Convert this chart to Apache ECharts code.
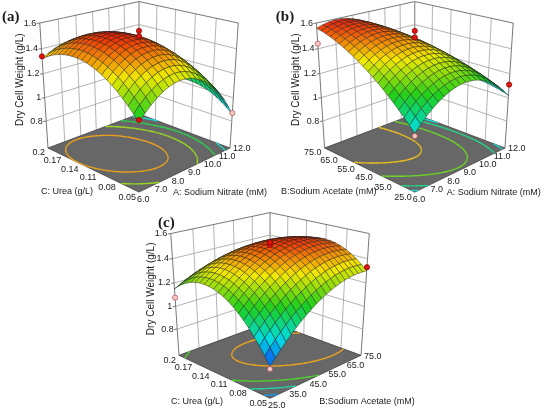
<!DOCTYPE html>
<html>
<head>
<meta charset="utf-8">
<title>Dry Cell Weight response surfaces</title>
<script src="https://cdn.jsdelivr.net/npm/echarts@6/dist/echarts.min.js"></script>
<style>
  html, body { margin: 0; padding: 0; background: #fff; }
  #main { width: 550px; height: 418px; }
</style>
</head>
<body>
<div id="main"></div>
<script>
  // vertical axis (Dry Cell Weight, g/L)
  const zTicks = [0.8, 1.0, 1.2, 1.4, 1.6];
  const zTickLabels = ['0.8', '1', '1.2', '1.4', '1.6'];
  const zFloor = 0.56;
  const zTop = 1.6;

  // factor levels and their tick labels
  const nitrate = [6, 7, 8, 9, 10, 11, 12];
  const nitrateLabels = ['6.0', '7.0', '8.0', '9.0', '10.0', '11.0', '12.0'];
  const acetate = [25, 35, 45, 55, 65, 75];
  const acetateLabels = ['25.0', '35.0', '45.0', '55.0', '65.0', '75.0'];
  const urea = [0.05, 0.08, 0.11, 0.14, 0.17, 0.2];
  const ureaLabels = ['0.05', '0.08', '0.11', '0.14', '0.17', '0.2'];

  // surface heights at the tick levels
  // (a) rows: sodium nitrate 6..12, columns: urea 0.05..0.2
  const surfaceA = [
    [1.100, 1.268, 1.374, 1.418, 1.400, 1.320],
    [1.232, 1.388, 1.481, 1.513, 1.482, 1.390],
    [1.296, 1.439, 1.520, 1.539, 1.496, 1.390],
    [1.290, 1.421, 1.489, 1.495, 1.440, 1.322],
    [1.216, 1.334, 1.390, 1.383, 1.320, 1.200],
    [1.080, 1.190, 1.240, 1.230, 1.160, 1.050],
    [0.860, 0.980, 1.030, 1.020, 0.940, 0.850]
  ];
  // (b) rows: sodium nitrate 6..12, columns: sodium acetate 25..75
  const surfaceB = [
    [1.020, 1.186, 1.322, 1.430, 1.510, 1.560],
    [1.153, 1.299, 1.416, 1.504, 1.563, 1.593],
    [1.233, 1.359, 1.456, 1.524, 1.563, 1.573],
    [1.260, 1.366, 1.442, 1.490, 1.510, 1.500],
    [1.233, 1.319, 1.376, 1.404, 1.403, 1.373],
    [1.153, 1.219, 1.256, 1.264, 1.243, 1.193],
    [1.020, 1.066, 1.082, 1.070, 1.030, 0.960]
  ];
  // (c) rows: sodium acetate 25..75, columns: urea 0.05..0.2
  const surfaceC = [
    [0.820, 1.056, 1.206, 1.272, 1.254, 1.150],
    [1.006, 1.220, 1.350, 1.396, 1.356, 1.232],
    [1.146, 1.340, 1.450, 1.474, 1.414, 1.268],
    [1.242, 1.416, 1.504, 1.508, 1.426, 1.260],
    [1.294, 1.446, 1.514, 1.496, 1.394, 1.208],
    [1.300, 1.432, 1.478, 1.440, 1.318, 1.110]
  ];

  // contour levels drawn on the floor
  const contoursA = [0.95, 1.1, 1.25, 1.42];
  const contoursB = [1.05, 1.13, 1.28, 1.45];
  const contoursC = [0.9, 1.05, 1.2, 1.42];

  // design points: [right axis value, left axis value, dry cell weight, above surface]
  const pointsA = [[9, 0.125, 1.50, 1], [9, 0.125, 1.54, 1], [6, 0.2, 1.34, 1], [12, 0.05, 0.87, 0], [6, 0.05, 1.12, 1]];
  const pointsB = [[9, 50, 1.49, 1], [9, 50, 1.54, 1], [6, 75, 1.44, 0], [12, 25, 1.11, 1], [6, 25, 1.00, 0]];
  const pointsC = [[50, 0.125, 1.51, 1], [50, 0.125, 1.53, 1], [25, 0.2, 1.075, 0], [75, 0.05, 1.33, 1], [25, 0.05, 0.80, 0]];

  // look of the plots
  const PALETTE = ['#0a30f0', '#00dce6', '#1ccf1c', '#f2e800', '#ec1c0c'];
  const PHI = 25 * Math.PI / 180;
  const DIST = 10.0;
  const FOCAL = 643.5;
  const HSCALE = 1.889;
  const XR = [-0.212, 0.212];
  const YR = [-0.1, 0.225];
  const FONT = '9px "Liberation Sans", Arial, sans-serif';
  const GRIDLINE = '#a0a0a0';
  const EDGE = '#555555';

  const panels = [
    {
      tag: '(a)', cx: 139, cy: 148, grid: surfaceA,
      right: nitrate, rightLabels: nitrateLabels, rightName: 'A: Sodium Nitrate (mM)',
      left: urea, leftLabels: ureaLabels, leftName: 'C: Urea (g/L)',
      contours: contoursA, points: pointsA, subR: 3, subL: 4, colorRange: [0.72, 1.55],
      tagPos: [-137, -131], leftNamePos: [-72, 44], rightNamePos: [81, 45]
    },
    {
      tag: '(b)', cx: 416, cy: 148, grid: surfaceB,
      right: nitrate, rightLabels: nitrateLabels, rightName: 'A: Sodium Nitrate (mM)',
      left: acetate, leftLabels: acetateLabels, leftName: 'B:Sodium Acetate (mM)',
      contours: contoursB, points: pointsB, subR: 3, subL: 4, colorRange: [0.84, 1.6],
      tagPos: [-139, -131], leftNamePos: [-86, 44], rightNamePos: [79, 45]
    },
    {
      tag: '(c)', cx: 270, cy: 359, grid: surfaceC,
      right: acetate, rightLabels: acetateLabels, rightName: 'B:Sodium Acetate (mM)',
      left: urea, leftLabels: ureaLabels, leftName: 'C: Urea (g/L)',
      contours: contoursC, points: pointsC, subR: 4, subL: 4, colorRange: [0.80, 1.54],
      tagPos: [-112, -132], leftNamePos: [-73, 46], rightNamePos: [97, 46]
    }
  ];

  // perspective view of the unit box: U along the right edge, V along the left edge
  function project(U, V, z) {
    const w = (z - zFloor) * HSCALE;
    const xc = (U - V) / Math.SQRT2;
    const dpt = (U + V) / Math.SQRT2;
    const yc = w * Math.cos(PHI) + dpt * Math.sin(PHI);
    const zc = DIST + dpt * Math.cos(PHI) - w * Math.sin(PHI);
    return [xc / zc, yc / zc];
  }

  // smooth surface between the read values (Catmull-Rom)
  function cubic(p0, p1, p2, p3, t) {
    return 0.5 * (2 * p1 + (p2 - p0) * t + (2 * p0 - 5 * p1 + 4 * p2 - p3) * t * t +
      (3 * p1 - p0 - 3 * p2 + p3) * t * t * t);
  }
  function at(arr, k) {
    const n = arr.length;
    if (k < 0) return 3 * arr[0] - 3 * arr[1] + arr[2];
    if (k >= n) return 3 * arr[n - 1] - 3 * arr[n - 2] + arr[n - 3];
    return arr[k];
  }
  function interp1(arr, g) {
    const k = Math.min(Math.floor(g), arr.length - 2);
    return cubic(at(arr, k - 1), at(arr, k), at(arr, k + 1), at(arr, k + 2), g - k);
  }
  function sample(grid, gi, gj) {
    return interp1(grid.map(row => interp1(row, gj)), gi);
  }
  function buildFine(grid, subR, subL) {
    const NI = (grid.length - 1) * subR, NJ = (grid[0].length - 1) * subL;
    const out = [];
    for (let I = 0; I <= NI; I++) {
      const row = [];
      for (let J = 0; J <= NJ; J++) row.push(sample(grid, I / subR, J / subL));
      out.push(row);
    }
    return out;
  }

  function contourSegments(field, level) {
    const segs = [];
    for (let I = 0; I < field.length - 1; I++) {
      for (let J = 0; J < field[0].length - 1; J++) {
        const c = [[I, J], [I + 1, J], [I + 1, J + 1], [I, J + 1]];
        const v = c.map(p => field[p[0]][p[1]]);
        const pts = [];
        for (let e = 0; e < 4; e++) {
          const a = v[e], b = v[(e + 1) % 4];
          if ((a < level) !== (b < level)) {
            const t = (level - a) / (b - a);
            const pa = c[e], pb = c[(e + 1) % 4];
            pts.push([pa[0] + (pb[0] - pa[0]) * t, pa[1] + (pb[1] - pa[1]) * t]);
          }
        }
        if (pts.length === 2) segs.push(pts);
        else if (pts.length === 4) { segs.push([pts[0], pts[1]]); segs.push([pts[2], pts[3]]); }
      }
    }
    return segs;
  }

  function colorOf(z, range) {
    const t = Math.max(0, Math.min(1, (z - range[0]) / (range[1] - range[0])));
    return echarts.color.lerp(t, PALETTE);
  }

  function text(x, y, s, opt) {
    opt = opt || {};
    return {
      type: 'text', x: x, y: y, rotation: opt.rot || 0,
      style: {
        text: s, x: 0, y: 0, fill: '#1a1a1a', font: opt.font || FONT,
        align: opt.align || 'center', verticalAlign: 'middle',
        textAlign: opt.align || 'center', textVerticalAlign: 'middle'
      }
    };
  }

  panels.forEach(p => {
    p.fine = buildFine(p.grid, p.subR, p.subL);
    const field = buildFine(p.grid, 8, 10);
    const FI = field.length - 1, FJ = field[0].length - 1;
    p.contourLines = p.contours.map(level => ({
      level: level,
      segs: contourSegments(field, level).map(s => s.map(q => [-1 + 2 * q[0] / FI, -1 + 2 * q[1] / FJ]))
    }));
  });

  function frameItem(p) {
    return function (params, api) {
      const P = (U, V, z) => api.coord(project(U, V, z));
      const kids = [];
      const nR = p.right.length, nL = p.left.length;
      const uOf = k => -1 + 2 * k / (nR - 1);
      const vOf = k => -1 + 2 * k / (nL - 1);
      const line = (a, b, stroke, w) => kids.push({
        type: 'line', shape: { x1: a[0], y1: a[1], x2: b[0], y2: b[1] },
        style: { stroke: stroke, lineWidth: w }
      });
      // back walls
      for (let k = 0; k < nR; k++) {
        line(P(uOf(k), 1, zFloor), P(uOf(k), 1, zTop), (k === 0 || k === nR - 1) ? EDGE : GRIDLINE, 0.8);
      }
      for (let k = 0; k < nL - 1; k++) {
        line(P(1, vOf(k), zFloor), P(1, vOf(k), zTop), k === 0 ? EDGE : GRIDLINE, 0.8);
      }
      zTicks.forEach(z => {
        const c = z === zTop ? EDGE : GRIDLINE;
        line(P(-1, 1, z), P(1, 1, z), c, 0.8);
        line(P(1, -1, z), P(1, 1, z), c, 0.8);
      });
      // floor
      kids.push({
        type: 'polygon',
        shape: { points: [P(-1, -1, zFloor), P(1, -1, zFloor), P(1, 1, zFloor), P(-1, 1, zFloor)] },
        style: { fill: '#676767', stroke: '#3c3c3c', lineWidth: 0.8 }
      });
      // contours on the floor
      p.contourLines.forEach(cl => {
        const col = echarts.color.lift(colorOf(cl.level, p.colorRange), 0.08);
        cl.segs.forEach(s => line(P(s[0][0], s[0][1], zFloor), P(s[1][0], s[1][1], zFloor), col, 1.4));
      });
      // vertical axis ticks and labels
      zTicks.forEach((z, k) => {
        const a = P(-1, 1, z);
        line(a, [a[0] - 3, a[1] + 0.4], EDGE, 0.8);
        kids.push(text(a[0] - 3.5, a[1], zTickLabels[k], { align: 'right' }));
      });
      const o = P(0, 0, zFloor);
      const zn = P(-1, 1, 1.15);
      kids.push(text(o[0] - 119, zn[1], 'Dry Cell Weight (g/L)', {
        rot: Math.PI / 2, font: '10px "Liberation Sans", Arial, sans-serif'
      }));
      // floor axis labels
      p.rightLabels.forEach((s, k) => {
        const t = k / (nR - 1);
        const a = P(uOf(k), -1, zFloor);
        kids.push(text(a[0] - 2 + 5 * t, a[1] + 7 - 6 * t, s, { align: 'left' }));
      });
      p.leftLabels.forEach((s, k) => {
        const a = P(-1, vOf(k), zFloor);
        kids.push(text(a[0] - 3, a[1] + 5, s, { align: 'right' }));
      });
      kids.push(text(o[0] + p.leftNamePos[0], o[1] + p.leftNamePos[1], p.leftName));
      kids.push(text(o[0] + p.rightNamePos[0], o[1] + p.rightNamePos[1], p.rightName));
      kids.push(text(o[0] + p.tagPos[0], o[1] + p.tagPos[1], p.tag, {
        align: 'left', font: 'bold 15px "Liberation Serif", "Times New Roman", serif'
      }));
      return { type: 'group', children: kids };
    };
  }

  function surfaceItem(p) {
    const NI = p.fine.length - 1, NJ = p.fine[0].length - 1;
    return function (params, api) {
      const i = api.value(0), j = api.value(1);
      const kids = [];
      for (let a = 0; a < p.subR; a++) {
        for (let b = 0; b < p.subL; b++) {
          const I = i * p.subR + a, J = j * p.subL + b;
          const corners = [[I, J], [I + 1, J], [I + 1, J + 1], [I, J + 1]];
          let zs = 0;
          const pts = corners.map(q => {
            const z = p.fine[q[0]][q[1]];
            zs += z;
            return api.coord(project(-1 + 2 * q[0] / NI, -1 + 2 * q[1] / NJ, z));
          });
          kids.push({
            type: 'polygon', z2: (NI + NJ) - (I + J),
            shape: { points: pts },
            style: { fill: colorOf(zs / 4, p.colorRange), stroke: 'rgba(25,25,25,0.85)', lineWidth: 0.5 }
          });
        }
      }
      return { type: 'group', children: kids };
    };
  }

  function pointItem(p) {
    const r0 = p.right[0], r1 = p.right[p.right.length - 1];
    const l0 = p.left[0], l1 = p.left[p.left.length - 1];
    return function (params, api) {
      const U = -1 + 2 * (api.value(0) - r0) / (r1 - r0);
      const V = -1 + 2 * (api.value(1) - l0) / (l1 - l0);
      const c = api.coord(project(U, V, api.value(2)));
      const above = api.value(3) === 1;
      return {
        type: 'circle', shape: { cx: c[0], cy: c[1], r: 2.6 },
        style: { fill: above ? '#e3140e' : '#f6c8c8', stroke: above ? '#7a0000' : '#b04848', lineWidth: 0.7 }
      };
    };
  }

  const chart = echarts.init(document.getElementById('main'));
  const series = [];
  panels.forEach((p, k) => {
    const cells = [];
    for (let i = 0; i < p.grid.length - 1; i++) {
      for (let j = 0; j < p.grid[0].length - 1; j++) cells.push([i, j]);
    }
    cells.sort((s, t) => (t[0] + t[1]) - (s[0] + s[1]));
    series.push({
      type: 'custom', xAxisIndex: k, yAxisIndex: k, z: 1, silent: true, clip: false,
      renderItem: frameItem(p), data: [[0, 0]]
    });
    series.push({
      type: 'custom', xAxisIndex: k, yAxisIndex: k, z: 2, silent: true, clip: false,
      renderItem: surfaceItem(p), data: cells
    });
    series.push({
      type: 'custom', xAxisIndex: k, yAxisIndex: k, z: 3, silent: true, clip: false,
      renderItem: pointItem(p), data: p.points
    });
  });

  chart.setOption({
    animation: false,
    grid: panels.map(p => ({
      left: p.cx + FOCAL * XR[0], top: p.cy - FOCAL * YR[1],
      width: FOCAL * (XR[1] - XR[0]), height: FOCAL * (YR[1] - YR[0])
    })),
    xAxis: panels.map((p, k) => ({ type: 'value', gridIndex: k, min: XR[0], max: XR[1], show: false })),
    yAxis: panels.map((p, k) => ({ type: 'value', gridIndex: k, min: YR[0], max: YR[1], show: false })),
    series: series
  });
</script>
</body>
</html>
